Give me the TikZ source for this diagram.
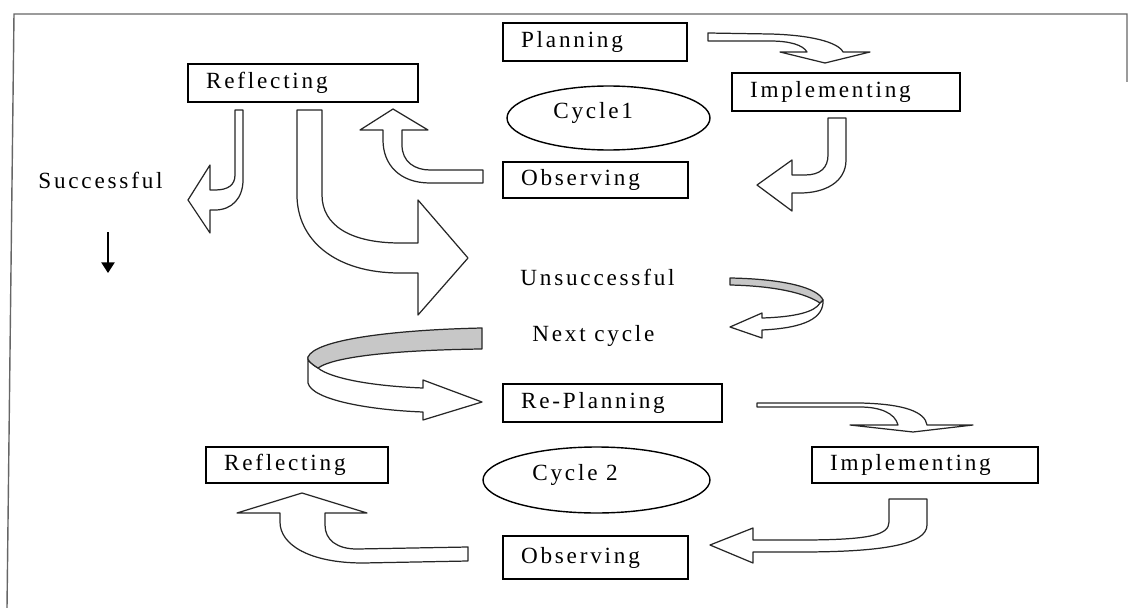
\documentclass[tikz,border=0pt]{standalone}
\usepackage{fontspec}
\setmainfont{Liberation Serif}[LetterSpace=12]
\usetikzlibrary{shapes.geometric,arrows.meta}

\begin{document}
\begin{tikzpicture}[x=0.02cm,y=-0.02cm,
  every node/.style={font=\fontsize{13.2}{15}\selectfont},
  box/.style={draw,line width=0.8pt,align=left,text width=#1,inner xsep=0.36cm,minimum height=0.76cm},
  cyc/.style={draw,ellipse,line width=0.8pt},
  lbl/.style={anchor=base west,inner sep=0pt},
  blk/.style={draw=black!85,fill=white,line width=0.7pt,line join=round},
  band/.style={blk,fill=black!22}]
\useasboundingbox (0,0) rectangle (1129,608);
\draw[black!60,line width=0.8pt] (1127,82) -- (1127,14) -- (14,14) -- (7,608);

\node[box=2.96cm] (plan) at (595,42) {Planning};
\node[box=3.88cm] (refl1) at (303,83) {Reflecting};
\node[box=3.84cm] (impl1) at (846,92) {Implementing};
\node[box=2.98cm,minimum height=0.72cm] (obs1) at (595.5,180) {Observing};
\node[box=3.66cm] (replan) at (612.5,403) {Re-Planning};
\node[box=3.80cm,minimum height=0.72cm] (impl2) at (925,465) {Implementing};
\node[box=2.92cm,minimum height=0.72cm] (refl2) at (297,465) {Reflecting};
\node[box=2.98cm,minimum height=0.86cm] (obs2) at (595.5,557.5) {Observing};

\node[cyc,minimum width=4.06cm,minimum height=1.28cm] (cyc1) at (608.5,118) {};
\node[lbl] (cyc1txt) at (553,118) {Cycle1};
\node[cyc,minimum width=4.54cm,minimum height=1.32cm] (cyc2) at (596.5,480) {};
\node[lbl] (cyc2txt) at (532,480) {Cycle 2};

\node[lbl] (succ) at (38,188) {Successful};
\node[lbl] (unsucc) at (520,285) {Unsuccessful};
\node[lbl] (next) at (532,341) {Next cycle};

\coordinate (s1) at (108,232);
\coordinate (s2) at (108,273);
\draw[line width=0.8pt,-{Triangle[length=6pt,width=7.5pt]}] (s1) -- (s2);

\draw[blk] (708,33) -- (770,34) .. controls (810,35) and (838,42) .. (843,52) -- (870,52) -- (825,63) -- (780,52) -- (807,52) .. controls (803,45) and (790,41) .. (770,41) -- (708,41) -- cycle;
\draw[blk] (828,118) -- (846,118) -- (846,160) .. controls (846,182) and (825,193) .. (800,193) -- (792,193) -- (792,211) -- (757,185) -- (792,160) -- (792,175) -- (805,175) .. controls (820,175) and (828,168) .. (828,155) -- cycle;
\draw[blk] (483,170) -- (483,183) -- (430,183) .. controls (400,183) and (383,165) .. (383,140) -- (383,130) -- (360,130) -- (393,109) -- (428,130) -- (402,130) -- (402,145) .. controls (402,162) and (415,170) .. (430,170) -- cycle;
\draw[blk] (235,110) -- (243,110) -- (243,180) .. controls (243,198) and (232,210) .. (215,210) -- (210,210) -- (210,233) -- (188,200) -- (210,165) -- (210,190) -- (215,190) .. controls (228,190) and (235,185) .. (235,175) -- cycle;
\draw[blk] (297,110) -- (322,110) -- (322,195) .. controls (322,225) and (350,243) .. (400,243) -- (418,243) -- (418,200) -- (468,258) -- (418,315) -- (418,273) -- (400,273) .. controls (335,273) and (297,240) .. (297,195) -- cycle;

\draw[blk] (820,303) .. controls (815,312) and (795,317) .. (762,318) -- (762,313) -- (730,327) -- (762,338) -- (762,330) .. controls (805,328) and (824,318) .. (823,300) -- cycle;
\draw[band] (730,278) .. controls (785,279) and (818,288) .. (823,300) -- (820,303) .. controls (805,293) and (775,286) .. (730,285) -- cycle;

\draw[blk] (308,357) -- (308,383) .. controls (312,400) and (370,410) .. (423,412) -- (423,420) -- (482,402) -- (423,380) -- (423,388) .. controls (370,386) and (330,378) .. (318,368) .. controls (310,363) and (307,360) .. (308,357) -- cycle;
\draw[band] (482,328) -- (482,349) .. controls (400,350) and (335,356) .. (318,368) .. controls (310,363) and (307,360) .. (308,357) .. controls (315,340) and (390,330) .. (482,328) -- cycle;

\draw[blk] (757,403) -- (860,403) .. controls (905,404) and (925,412) .. (927,425) -- (973,425) -- (913,432) -- (850,425) -- (898,425) .. controls (895,413) and (880,407) .. (860,407) -- (757,407) -- cycle;
\draw[blk] (889,499) -- (927,499) -- (927,525) .. controls (927,545) and (880,552) .. (800,552) -- (753,552) -- (753,563) -- (710,545) -- (753,528) -- (753,540) -- (800,540) .. controls (870,540) and (889,535) .. (889,522) -- cycle;
\draw[blk] (468,547) -- (468,561) -- (363,563) .. controls (310,563) and (280,545) .. (280,522) -- (280,513) -- (237,513) -- (302,493) -- (367,513) -- (325,513) -- (325,525) .. controls (325,540) and (337,549) .. (357,549) -- cycle;
\end{tikzpicture}
\end{document}
